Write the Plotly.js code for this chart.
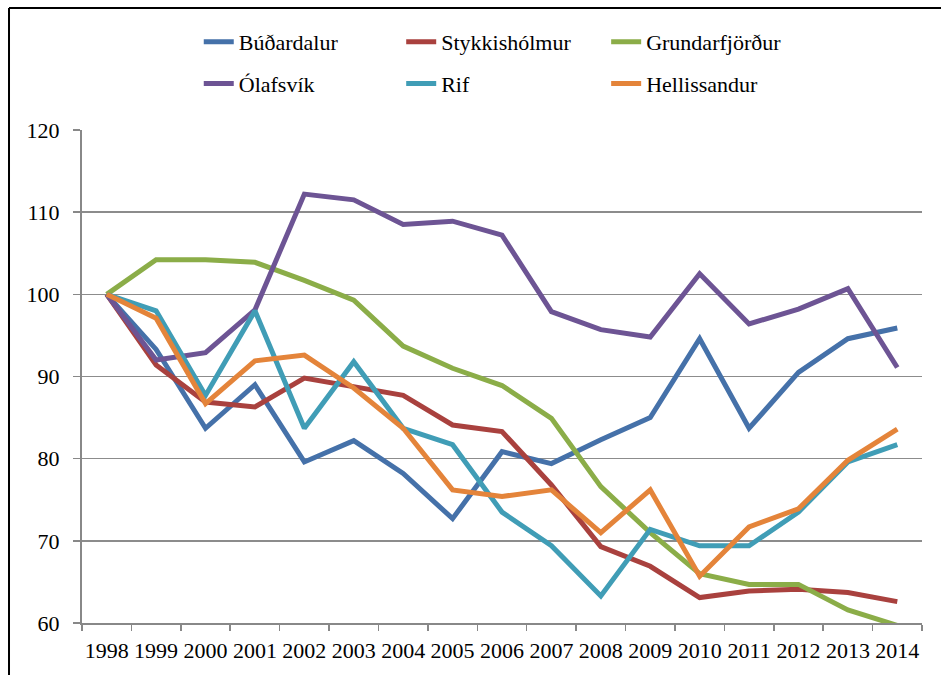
<!DOCTYPE html>
<html>
<head>
<meta charset="utf-8">
<script src="https://cdn.plot.ly/plotly-3.0.1.min.js"></script>
<style>
html,body{margin:0;padding:0;background:#fff;}
#chart{width:941px;height:675px;}
</style>
</head>
<body>
<div id="chart"></div>
<script>
var years = ['1998','1999','2000','2001','2002','2003','2004','2005','2006','2007','2008','2009','2010','2011','2012','2013','2014'];
var budardalur = [100, 93.3, 83.7, 89.0, 79.6, 82.2, 78.2, 72.7, 80.85, 79.4, 82.3, 85.0, 94.6, 83.7, 90.5, 94.6, 95.9];
var stykkisholmur = [100, 91.4, 86.9, 86.3, 89.8, 88.7, 87.7, 84.1, 83.3, 76.8, 69.3, 66.9, 63.1, 63.9, 64.1, 63.7, 62.6];
var grundarfjordur = [100, 104.2, 104.2, 103.9, 101.7, 99.3, 93.7, 91.0, 88.9, 84.9, 76.6, 71.0, 66.0, 64.7, 64.7, 61.6, 59.7];
var olafsvik = [100, 92.0, 92.9, 98.1, 112.2, 111.5, 108.5, 108.9, 107.2, 97.9, 95.7, 94.8, 102.5, 96.4, 98.2, 100.7, 91.1];
var rif = [100, 98.0, 87.7, 98.0, 83.7, 91.8, 83.7, 81.7, 73.5, 69.4, 63.3, 71.4, 69.4, 69.4, 73.5, 79.6, 81.7];
var hellissandur = [100, 97.1, 86.7, 91.9, 92.6, 88.6, 83.7, 76.2, 75.4, 76.2, 71.0, 76.2, 65.7, 71.7, 73.9, 79.8, 83.6];

var names = ['Búðardalur','Stykkishólmur','Grundarfjörður','Ólafsvík','Rif','Hellissandur'];
var series = [budardalur, stykkisholmur, grundarfjordur, olafsvik, rif, hellissandur];
var colors = ['#4571A9','#A9413E','#8BAD48','#6D5494','#409DB6','#E4843A'];
var legends = ['legend','legend2','legend3','legend','legend2','legend3'];

var FONT = 'Liberation Serif';

var data = series.map(function(s, i){
  return {
    type: 'scatter', mode: 'lines',
    x: years, y: s, name: names[i],
    legend: legends[i],
    legendgroup: 'g' + i,
    line: {color: colors[i], width: 5},
    hoverinfo: 'x+y+name'
  };
});

function leg(x){
  return {
    x: x, xanchor: 'left', y: 1.221, yanchor: 'top',
    orientation: 'v', bgcolor: 'rgba(0,0,0,0)',
    font: {family: FONT, size: 22, color: '#000'},
    tracegroupgap: 10, traceorder: 'grouped'
  };
}

var layout = {
  width: 941, height: 675,
  margin: {l: 82, r: 19, t: 130, b: 52},
  paper_bgcolor: '#fff', plot_bgcolor: '#fff',
  font: {family: FONT, size: 22, color: '#000'},
  showlegend: true,
  legend: leg(0.139),
  legend2: leg(0.380),
  legend3: leg(0.624),
  xaxis: {
    type: 'category', range: [-0.5, 16.5],
    tickson: 'boundaries', ticks: 'outside', ticklen: 6, tickwidth: 1.5, tickcolor: '#888',
    showline: true, linecolor: '#888', linewidth: 2,
    showgrid: false, zeroline: false, tickangle: 0,
    tickfont: {family: FONT, size: 22, color: '#000'},
    ticklabelstandoff: 7
  },
  yaxis: {
    range: [60, 120], dtick: 10, tick0: 60,
    ticks: 'outside', ticklen: 7, tickwidth: 1.5, tickcolor: '#888',
    showline: true, linecolor: '#888', linewidth: 2,
    showgrid: true, gridcolor: '#8c8c8c', gridwidth: 1.5,
    zeroline: false,
    tickfont: {family: FONT, size: 22, color: '#000'},
    ticklabelstandoff: 9
  },
  shapes: [
    {type: 'line', xref: 'paper', yref: 'paper', x0: -0.0869, x1: 1.1, y0: 1.2475, y1: 1.2475, line: {color: '#000', width: 2}},
    {type: 'line', xref: 'paper', yref: 'paper', x0: -0.0869, x1: -0.0869, y0: -0.2, y1: 1.2475, line: {color: '#000', width: 2}}
  ]
};

Plotly.newPlot('chart', data, layout, {displayModeBar: false, staticPlot: true});
</script>
</body>
</html>
